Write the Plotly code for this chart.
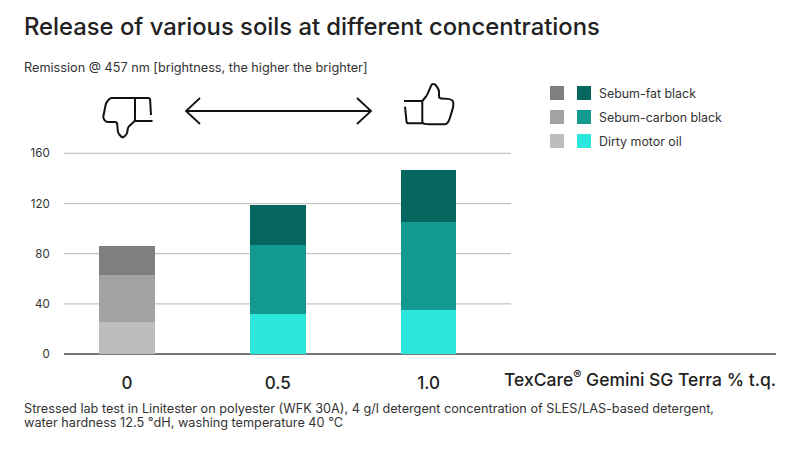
import math
import plotly.graph_objects as go

W, H = 800, 449

# values
doses = [0, 1, 2]
dose_labels = ["0", "0.5", "1.0"]
motor_oil = [25.5, 32, 35]
carbon_black = [37.5, 55, 70]
fat_black = [23, 32, 42]

greys = ["#bdbdbd", "#a2a2a2", "#7f7f7f"]
teals = ["#2de6dc", "#139a90", "#04665f"]

def px(x):
    return x / W

def py(y):
    return 1 - y / H

def xy(p):
    return f"{px(p[0]):.5f},{py(p[1]):.5f}"

# polyline with the corners rounded off, hand drawn look of the icons
def path(points, r=0):
    if r == 0:
        return "M " + " L ".join(xy(p) for p in points)
    s = "M " + xy(points[0])
    for a, b, c in zip(points, points[1:], points[2:]):
        d1 = math.dist(a, b)
        d2 = math.dist(b, c)
        r1 = min(r, d1 / 2) / d1
        r2 = min(r, d2 / 2) / d2
        p1 = (b[0] + (a[0] - b[0]) * r1, b[1] + (a[1] - b[1]) * r1)
        p2 = (b[0] + (c[0] - b[0]) * r2, b[1] + (c[1] - b[1]) * r2)
        s += " L " + xy(p1) + " Q " + xy(b) + " " + xy(p2)
    return s + " L " + xy(points[-1])

fig = go.Figure()

# stacked bars, first column is the grey reference
for i, (vals, name) in enumerate([(motor_oil, "Dirty motor oil"),
                                  (carbon_black, "Sebum-carbon black"),
                                  (fat_black, "Sebum-fat black")]):
    fig.add_trace(go.Bar(x=doses, y=vals, name=name, width=0.371, showlegend=False,
                         marker=dict(color=[greys[i], teals[i], teals[i]], line_width=0)))

shapes = []
# gridlines stop short of the axis label
for v in [40, 80, 120, 160]:
    shapes.append(dict(type="line", xref="paper", yref="y", x0=px(64), x1=px(511), y0=v, y1=v,
                       line=dict(color="#c4c4c4", width=1.2), layer="below"))

# thumbs and arrow
down = [[(135, 98), (110, 98), (106, 103), (103, 118), (106, 122), (117, 122), (118, 133),
         (122.5, 138), (127, 134), (128, 127), (135, 121), (135, 98)],
        [(135, 98), (150, 98), (151, 115)],
        [(135, 121), (152.5, 121)]]
up = [[(422.3, 101), (422.3, 123.3), (426.7, 124.3), (446.7, 124.3), (449.3, 120), (453.3, 106.7),
       (453.3, 101), (450, 99), (439, 98.3), (439, 90), (435, 84), (431.7, 84), (429.3, 90),
       (426.7, 95.7), (422.3, 101)],
      [(404, 101), (422.3, 101)],
      [(405, 106.7), (406.7, 123.3), (422.3, 123.3)]]
arrow = [[(186, 111), (371, 111)], [(200, 98), (186, 111), (200, 124)], [(357, 98), (371, 111), (357, 124)]]
for pts in down + up:
    shapes.append(dict(type="path", xref="paper", yref="paper", path=path(pts, r=2),
                       line=dict(color="#111111", width=2)))
for pts in arrow:
    shapes.append(dict(type="path", xref="paper", yref="paper", path=path(pts),
                       line=dict(color="#111111", width=1.8)))

# legend swatches
legend = [("Sebum-fat black", 93, 2), ("Sebum-carbon black", 117, 1), ("Dirty motor oil", 141, 0)]
annotations = []
for label, y, i in legend:
    for x0, col in [(550, greys[i]), (577, teals[i])]:
        shapes.append(dict(type="rect", xref="paper", yref="paper", x0=px(x0), x1=px(x0 + 14),
                           y0=py(y + 7), y1=py(y - 7), fillcolor=col, line_width=0))
    annotations.append(dict(text=label, xref="paper", yref="paper", x=px(597), y=py(y),
                            xanchor="left", yanchor="middle", showarrow=False,
                            font=dict(size=12.4, color="#333333")))

annotations += [
    dict(text="Remission @ 457 nm [brightness, the higher the brighter]", xref="paper", yref="paper",
         x=px(22), y=py(67), xanchor="left", yanchor="middle", showarrow=False,
         font=dict(size=12.7, color="#333333")),
    dict(text="TexCare<sup>®</sup> Gemini SG Terra % t.q.", xref="paper", yref="paper",
         x=px(778), y=py(378), xanchor="right", yanchor="middle", showarrow=False,
         font=dict(size=17.5, color="#222222", weight=500)),
]
# footnote lines sit closer than plotly's own line height, so one annotation each
footnote = [("Stressed lab test in Linitester on polyester (WFK 30A), 4 g/l detergent concentration of SLES/LAS-based detergent,", 408),
            ("water hardness 12.5 °dH, washing temperature 40 °C", 422)]
for line, y in footnote:
    annotations.append(dict(text=line, xref="paper", yref="paper", x=px(22), y=py(y), xanchor="left",
                            yanchor="middle", showarrow=False, font=dict(size=12.7, color="#333333")))

fig.update_layout(
    width=W, height=H, margin=dict(l=0, r=0, t=0, b=0),
    barmode="stack", plot_bgcolor="white", paper_bgcolor="white",
    font=dict(family="Inter, Lato, sans-serif"),
    title=dict(text="Release of various soils at different concentrations", x=24 / W, y=1 - 27 / H,
               xanchor="left", yanchor="middle", font=dict(size=23.8, color="#222222", weight=500)),
    shapes=shapes, annotations=annotations,
)
fig.update_xaxes(domain=[px(64), px(776)], range=[-0.418, 4.305], tickmode="array", automargin=False,
                 tickvals=doses, ticktext=dose_labels, showgrid=False, zeroline=False,
                 showline=False, ticks="outside", ticklen=14, tickcolor="rgba(0,0,0,0)",
                 tickfont=dict(size=17, color="#222222", weight=500))
fig.update_yaxes(domain=[py(354), py(134)], range=[0, (354 - 134) / 1.2535], tickvals=[0, 40, 80, 120, 160],
                 automargin=False, showgrid=False, zeroline=True, zerolinecolor="#777777", zerolinewidth=1.5,
                 showline=False, ticks="outside", ticklen=11, tickcolor="rgba(0,0,0,0)",
                 tickfont=dict(size=11.5, color="#333333"))

fig.write_html("out.html", config={"displayModeBar": False}, post_script="document.body.style.margin='0';")
